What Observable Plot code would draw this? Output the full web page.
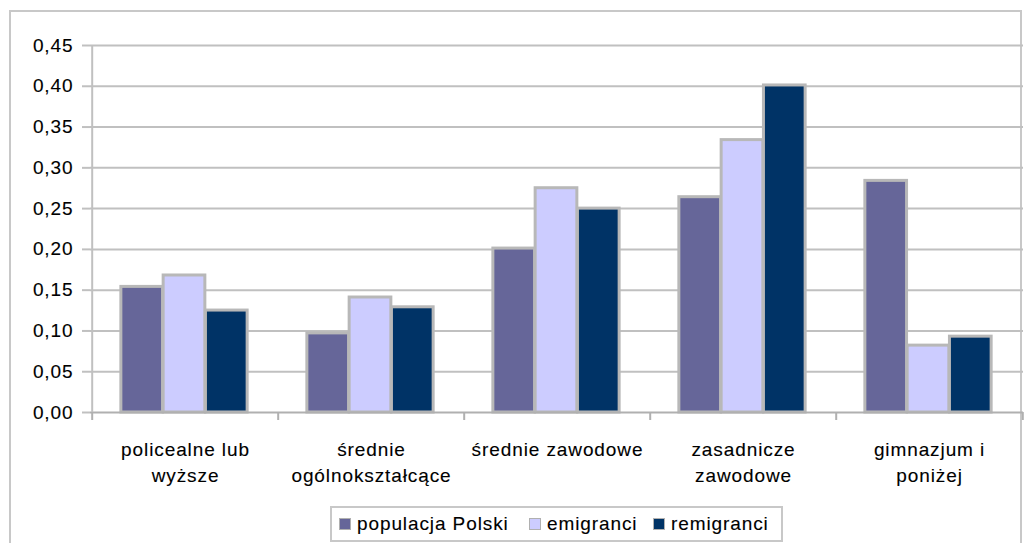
<!DOCTYPE html>
<html>
<head>
<meta charset="utf-8">
<script src="https://cdn.jsdelivr.net/npm/d3@7"></script>
<script src="https://cdn.jsdelivr.net/npm/@observablehq/plot@0.6"></script>
<style>
  html, body { margin: 0; padding: 0; background: #fff; }
  #wrap { position: relative; width: 1026px; height: 543px; overflow: hidden; font-family: "Liberation Sans", Arial, sans-serif; }
  #frame { position: absolute; left: 9px; top: 10px; width: 1013px; height: 600px; border: 2px solid #c8c8c8; box-sizing: border-box; }
  #chart { position: absolute; left: 0; top: 0; }
  #legend { position: absolute; left: 330px; top: 506px; width: 453px; height: 36px; border: 2px solid #c8c8c8; box-sizing: border-box; background: #fff; font-size: 19px; letter-spacing: 0.9px; color: #000; -webkit-text-stroke: 0.12px #000; }
  .item { display: flex; align-items: center; position: absolute; top: 5px; }
  .sw { width: 10px; height: 10px; border: 1.5px solid #b0b0b0; margin-right: 6px; }
</style>
</head>
<body>
<div id="wrap">
  <div id="frame"></div>
  <div id="chart"></div>
  <div id="legend"></div>
</div>
<script>
const categories = ["policealne lub wyższe", "średnie ogólnokształcące", "średnie zawodowe", "zasadnicze zawodowe", "gimnazjum i poniżej"];
const categoryLabels = ["policealne lub\nwyższe", "średnie\nogólnokształcące", "średnie zawodowe", "zasadnicze\nzawodowe", "gimnazjum i\nponiżej"];
const seriesNames = ["populacja Polski", "emigranci", "remigranci"];
const seriesColors = ["#666699", "#ccccff", "#003366"];
const populacja = [0.154, 0.097, 0.201, 0.264, 0.284];
const emigranci = [0.168, 0.141, 0.275, 0.334, 0.082];
const remigranci = [0.125, 0.129, 0.250, 0.401, 0.093];
const yTicks = [0, 0.05, 0.10, 0.15, 0.20, 0.25, 0.30, 0.35, 0.40, 0.45];

const seriesValues = [populacja, emigranci, remigranci];
const data = [];
seriesNames.forEach((s, si) => categories.forEach((c, ci) => data.push({series: s, si, cat: c, value: seriesValues[si][ci]})));

const W = 1026, H = 500, ML = 90, MR = 3, MT = 45, MB = 88;
const bw = (W - ML - MR) / categories.length;
const outer = bw * 0.16;
const barW = (bw - 2 * outer) / 3;
const shift = -1;
const grid = "#c0c0c0";
const fmt = d => d.toFixed(2).replace(".", ",");
const labelOf = new Map(categories.map((c, i) => [c, categoryLabels[i]]));

const marks = [
  Plot.ruleY(yTicks.filter(d => d > 0), {stroke: grid, strokeWidth: 2}),
  ...seriesNames.map((s, si) => Plot.barY(data.filter(d => d.si === si), {
    x: "cat", y: "value", fill: seriesColors[si], stroke: "#b8b8b8", strokeWidth: 3,
    insetLeft: outer + barW * si + shift, insetRight: bw - outer - barW * (si + 1) - shift
  })),
  Plot.ruleY([0], {stroke: "#b0b0b0", strokeWidth: 2}),
  Plot.ruleX([categories[0]], {x: d => d, dx: -bw / 2, y1: 0, y2: 0.45, stroke: grid, strokeWidth: 2}),
  Plot.ruleX(categories, {x: d => d, dx: -bw / 2, y1: 0, y2: 0, insetBottom: -8, stroke: "#b0b0b0", strokeWidth: 2}),
  Plot.ruleX([categories[categories.length - 1]], {x: d => d, dx: bw / 2, y1: 0, y2: 0, insetBottom: -8, stroke: "#b0b0b0", strokeWidth: 2}),
  Plot.axisY({ticks: yTicks, tickFormat: fmt, tickSize: 8, tickPadding: 9, stroke: grid, strokeWidth: 2, fontSize: 19, fill: "#000"}),
  Plot.axisX({tickSize: 0, tickPadding: 24.5, tickFormat: d => labelOf.get(d), lineHeight: 1.4, fontSize: 19, fill: "#000", lineAnchor: "top"})
];

const chart = Plot.plot({
  width: W, height: H,
  marginLeft: ML, marginRight: MR, marginTop: MT, marginBottom: MB,
  style: {fontFamily: "'Liberation Sans', Arial, sans-serif", fontSize: "19px", letterSpacing: "0.9px", background: "transparent", overflow: "visible"},
  x: {domain: categories, padding: 0, label: null},
  y: {domain: [0, 0.45], label: null},
  marks
});
document.getElementById("chart").appendChild(chart);
chart.querySelectorAll("g[aria-label='y-axis tick label'] text, g[aria-label='x-axis tick label'] text").forEach(t => { t.style.stroke = "#000"; t.style.strokeWidth = "0.12px"; });

const legend = document.getElementById("legend");
const legendX = [7, 197, 321];
seriesNames.forEach((s, i) => {
  const it = document.createElement("div");
  it.className = "item";
  it.style.left = legendX[i] + "px";
  const sw = document.createElement("div");
  sw.className = "sw";
  sw.style.background = seriesColors[i];
  const tx = document.createElement("span");
  tx.textContent = s;
  it.appendChild(sw); it.appendChild(tx);
  legend.appendChild(it);
});
</script>
</body>
</html>
